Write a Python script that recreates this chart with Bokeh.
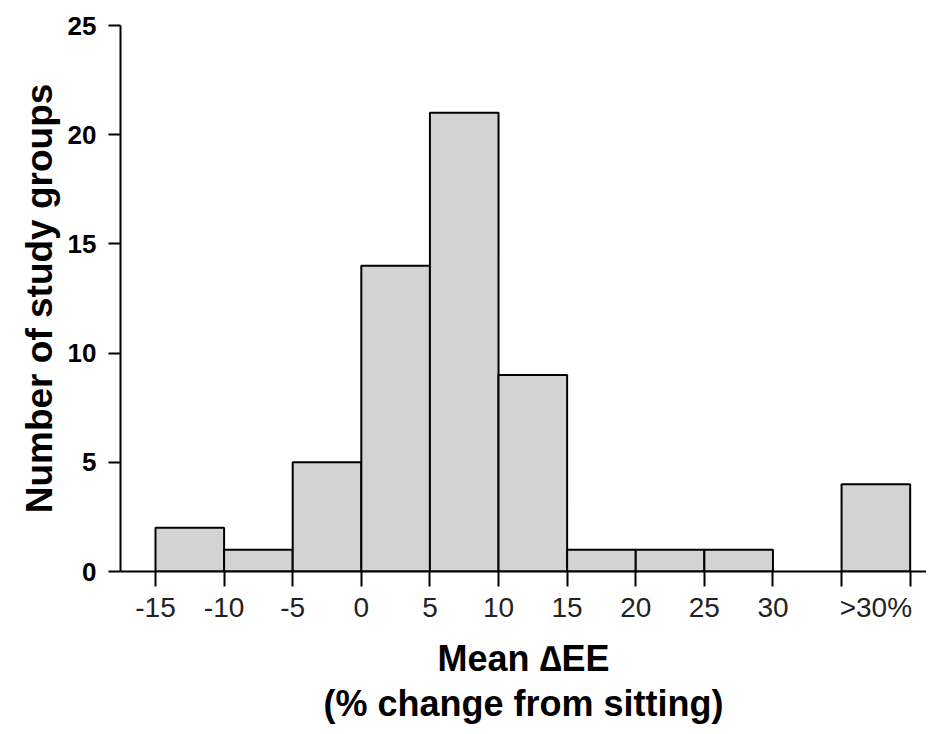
from bokeh.plotting import figure
from bokeh.models import FixedTicker, Range1d
from bokeh.embed import file_html
from bokeh.resources import INLINE

# Data: histogram bins (% change in EE from sitting) and counts of study groups
bin_left = [-15, -10, -5, 0, 5, 10, 15, 20, 25, 35]
bin_right = [-10, -5, 0, 5, 10, 15, 20, 25, 30, 40]
counts = [2, 1, 5, 14, 21, 9, 1, 1, 1, 4]

label_ticks = [-15, -10, -5, 0, 5, 10, 15, 20, 25, 30, 37.5]
tick_labels = ["-15", "-10", "-5", "0", "5", "10", "15", "20", "25", "30", ">30%"]
tick_marks = [-15, -10, -5, 0, 5, 10, 15, 20, 25, 30, 35, 40]
y_ticks = [0, 5, 10, 15, 20, 25]

FONT = "Liberation Sans"

p = figure(width=926, height=726, output_backend="svg", toolbar_location=None,
           x_range=Range1d(-17.55, 41.19), y_range=Range1d(0, 25),
           min_border_left=120, min_border_top=25, min_border_right=0,
           min_border_bottom=153)
p.outline_line_color = None
p.grid.visible = False
p.background_fill_color = "white"
p.border_fill_color = "white"

p.quad(left=bin_left, right=bin_right, bottom=0, top=counts,
       fill_color="#d3d3d3", line_color="black", line_width=2)

xa = p.xaxis[0]
xa.ticker = FixedTicker(ticks=label_ticks, minor_ticks=tick_marks)
xa.major_label_overrides = {t: s for t, s in zip(label_ticks, tick_labels)}
xa.major_tick_out = 0
xa.major_tick_in = 0
xa.minor_tick_out = 15
xa.minor_tick_in = 0
xa.minor_tick_line_width = 2
xa.minor_tick_line_color = "black"
xa.axis_line_width = 2
xa.axis_line_color = "black"
xa.major_label_text_font = FONT
xa.major_label_text_font_size = "28px"
xa.major_label_text_color = "#222222"
xa.major_label_standoff = 5
xa.axis_label = "Mean \u2206EE\n(% change from sitting)"
xa.axis_label_text_font = FONT
xa.axis_label_text_font_style = "bold"
xa.axis_label_text_font_size = "36px"
xa.axis_label_text_line_height = 1.1
xa.axis_label_text_color = "black"
xa.axis_label_standoff = 12

ya = p.yaxis[0]
ya.ticker = FixedTicker(ticks=y_ticks, minor_ticks=[])
ya.major_tick_out = 12
ya.major_tick_in = 0
ya.major_tick_line_width = 2
ya.axis_line_width = 2
ya.axis_line_color = "black"
ya.major_tick_line_color = "black"
ya.major_label_text_font = FONT
ya.major_label_text_font_style = "bold"
ya.major_label_text_font_size = "26px"
ya.major_label_text_color = "black"
ya.major_label_standoff = 12
ya.axis_label = "Number of study groups"
ya.axis_label_text_font = FONT
ya.axis_label_text_font_style = "bold"
ya.axis_label_text_font_size = "37px"
ya.axis_label_text_color = "black"
ya.axis_label_standoff = 5

open("out.html", "w").write(file_html(p, INLINE))
